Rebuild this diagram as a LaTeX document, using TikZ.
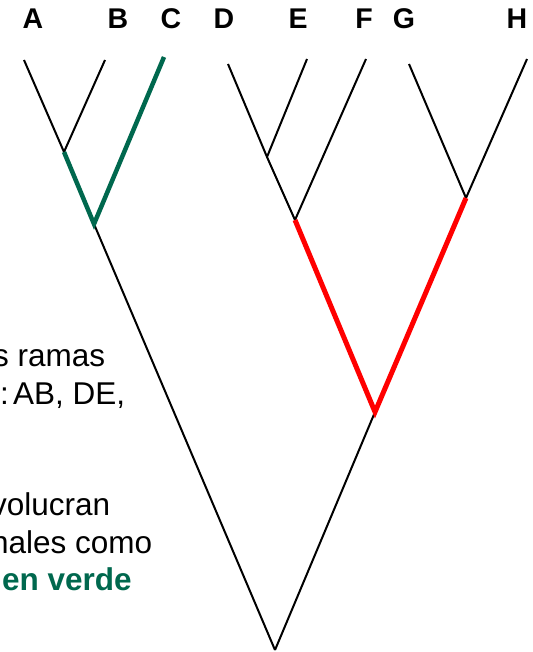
\documentclass[tikz,border=0pt]{standalone}
\usepackage{fontspec}
\setmainfont{Liberation Sans}
\definecolor{cladegreen}{RGB}{0,104,78}
\definecolor{cladered}{RGB}{255,0,0}
\tikzset{
  taxon/.style={font=\fontsize{28.5}{34}\selectfont\bfseries, anchor=base, inner sep=0pt},
  note/.style={font=\fontsize{31.5}{38}\selectfont, anchor=base west, inner sep=0pt},
  boldnote/.style={note, font=\fontsize{31.5}{38}\selectfont\bfseries, text=cladegreen},
  branch/.style={line width=2pt, black},
  greenbranch/.style={line width=4.5pt, cladegreen, line join=miter},
  redbranch/.style={line width=5pt, cladered, line join=miter},
}
\begin{document}
\begin{tikzpicture}[x=1pt, y=-1pt]
\useasboundingbox (0,0) rectangle (532,652);
\clip (0,0) rectangle (532,652);

% taxon labels
\node[taxon] (lA) at (33,29) {A};
\node[taxon] (lB) at (118,29) {B};
\node[taxon] (lC) at (171,29) {C};
\node[taxon] (lD) at (224,29) {D};
\node[taxon] (lE) at (298,29) {E};
\node[taxon] (lF) at (364,29) {F};
\node[taxon] (lG) at (404,29) {G};
\node[taxon] (lH) at (517,29) {H};

% branch tips
\coordinate (tA) at (24,60);
\coordinate (tB) at (105,60);
\coordinate (tC) at (164,57);
\coordinate (tD) at (228,64);
\coordinate (tE) at (307,59);
\coordinate (tF) at (366,59);
\coordinate (tG) at (409,64);
\coordinate (tH) at (527,59);

% internal nodes
\coordinate (nAB) at (64,152);
\coordinate (nABC) at (94,224);
\coordinate (nDE) at (267,157);
\coordinate (nDEF) at (295,220);
\coordinate (nGH) at (466,198);
\coordinate (nDH) at (375,412);
\coordinate (root) at (275,650);

% black branches
\draw[branch] (tA) -- (nAB) -- (nABC) -- (root);
\draw[branch] (tB) -- (nAB);
\draw[branch] (tD) -- (nDE) -- (nDEF);
\draw[branch] (tE) -- (nDE);
\draw[branch] (tF) -- (nDEF);
\draw[branch] (tG) -- (nGH);
\draw[branch] (tH) -- (nGH);
\draw[branch] (nDH) -- (root);

% highlighted branches
\draw[greenbranch] (nAB) -- (nABC) -- (tC);
\draw[redbranch] (nDEF) -- (nDH) -- (nGH);

% side text, running off the left edge
\node[note] (t1) at (-7,366) {s ramas};
\node[note] (t2) at (0,404) {:\hspace{4.2pt}AB, DE,};
\node[note] (t3) at (-9,515) {volucran};
\node[note] (t4) at (-9,553) {nales como};
\node[boldnote] (t5) at (2,590) {en verde};
\end{tikzpicture}
\end{document}
